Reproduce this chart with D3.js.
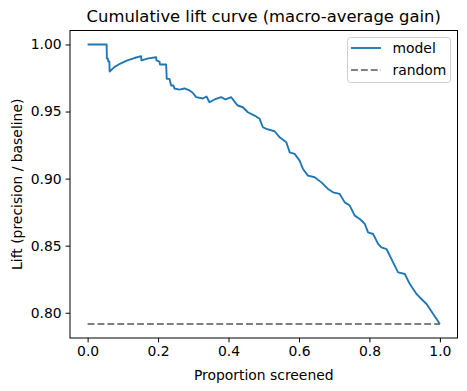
<!DOCTYPE html>
<html><head><meta charset="utf-8">
<script src="https://cdn.jsdelivr.net/npm/d3@7"></script>
<style>body{margin:0;background:#fff}svg{display:block}text{font-family:"DejaVu Sans",sans-serif;fill:#000}</style>
</head><body><svg id="c" width="467" height="391"></svg>
<script>
const proportion = [0,0.054,0.0546,0.0574,0.0589,0.0617,0.0626,0.0759,0.093,0.1129,0.1328,0.1518,0.1527,0.1726,0.1945,0.1953,0.2039,0.2053,0.2229,0.2246,0.2323,0.2371,0.2437,0.2465,0.2607,0.275,0.2892,0.2977,0.3082,0.327,0.3375,0.346,0.3603,0.3793,0.3915,0.4077,0.422,0.4265,0.4407,0.4549,0.474,0.4882,0.4976,0.5072,0.5308,0.5451,0.5641,0.5735,0.5877,0.6019,0.6113,0.6255,0.6446,0.6636,0.6824,0.6966,0.7157,0.7299,0.7441,0.7583,0.7725,0.7868,0.7961,0.8104,0.8246,0.8342,0.8484,0.8672,0.8814,0.9005,0.9147,0.9337,0.9432,0.9622,0.981,1.0];
const lift = [1.0,1.0,0.9896,0.9896,0.9873,0.9873,0.9799,0.9831,0.9858,0.9881,0.9899,0.9913,0.9881,0.9896,0.9905,0.9881,0.9873,0.9851,0.9851,0.9744,0.9744,0.9694,0.9694,0.9672,0.9664,0.9672,0.9657,0.9642,0.9607,0.9597,0.9612,0.9569,0.9590,0.9607,0.9590,0.9607,0.9557,0.9545,0.9532,0.9495,0.9470,0.9446,0.9383,0.9371,0.9353,0.9308,0.9271,0.9196,0.9184,0.9134,0.9072,0.9022,0.9010,0.8972,0.8923,0.8898,0.8886,0.8823,0.8799,0.8724,0.8699,0.8662,0.8599,0.8587,0.8513,0.8487,0.8475,0.8375,0.8301,0.8289,0.8214,0.8140,0.8114,0.8065,0.7990,0.7916];
const randomX = [0, 1];
const randomLift = [0.7916, 0.7916];
const xTicks = [0,0.2,0.4,0.6,0.8,1.0];
const yTicks = [0.80,0.85,0.90,0.95,1.00];
const seriesNames = ["model","random"];
const titleText = "Cumulative lift curve (macro-average gain)";
const xLabel = "Proportion screened";
const yLabel = "Lift (precision / baseline)";

const L=70, R=457.5, T=30.5, B=338;
const FS = "13.9px";
const svg = d3.select("#c");
const x = d3.scaleLinear().domain([-0.05,1.05]).range([L,R]);
const yMin = 0.7916, yMax = 1.0, pad=(yMax-yMin)*0.05;
const y = d3.scaleLinear().domain([yMin-pad,yMax+pad]).range([B,T]);

const line = d3.line().x(d=>x(d[0])).y(d=>y(d[1]));
svg.append("path").datum(randomX.map((v,i)=>[v,randomLift[i]]))
  .attr("d",line).attr("fill","none").attr("stroke","#808080").attr("stroke-width",1.875).attr("stroke-dasharray","6.9,3");
svg.append("path").datum(proportion.map((v,i)=>[v,lift[i]]))
  .attr("d",line).attr("fill","none").attr("stroke","#1f77b4").attr("stroke-width",1.875).attr("stroke-linejoin","round");

const xa = svg.append("g").attr("transform",`translate(0,${B})`)
  .call(d3.axisBottom(x).tickValues(xTicks).tickFormat(d3.format(".1f")).tickSize(4.4).tickPadding(4));
const ya = svg.append("g").attr("transform",`translate(${L},0)`)
  .call(d3.axisLeft(y).tickValues(yTicks).tickFormat(d3.format(".2f")).tickSize(4.4).tickPadding(4));
[xa,ya].forEach(g=>{g.select(".domain").remove();g.selectAll("text").attr("font-size",FS).attr("font-family","DejaVu Sans").attr("fill","#000");g.selectAll("line").attr("stroke","#000").attr("stroke-width",1);});

svg.append("rect").attr("x",L).attr("y",T).attr("width",R-L).attr("height",B-T).attr("fill","none").attr("stroke","#000").attr("stroke-width",1);

svg.append("text").attr("x",(L+R)/2).attr("y",22).attr("text-anchor","middle").attr("font-size","16.4px").text(titleText);
svg.append("text").attr("x",(L+R)/2).attr("y",380).attr("text-anchor","middle").attr("font-size",FS).text(xLabel);
svg.append("text").attr("transform",`translate(22,${(T+B)/2}) rotate(-90)`).attr("text-anchor","middle").attr("font-size",FS).text(yLabel);

const lg = svg.append("g");
lg.append("rect").attr("x",347.5).attr("y",37.5).attr("width",103).attr("height",45).attr("rx",3).attr("fill","#fff").attr("fill-opacity",0.8).attr("stroke","#d0d0d0").attr("stroke-width",1);
const colors=["#1f77b4","#808080"], dashes=[null,"6.9,3"];
seriesNames.forEach((n,i)=>{
  const yy = 48 + i*22;
  lg.append("line").attr("x1",351).attr("x2",381).attr("y1",yy).attr("y2",yy).attr("stroke",colors[i]).attr("stroke-width",1.875).attr("stroke-dasharray",dashes[i]);
  lg.append("text").attr("x",392.5).attr("y",yy+5).attr("font-size",FS).text(n);
});
</script></body></html>
